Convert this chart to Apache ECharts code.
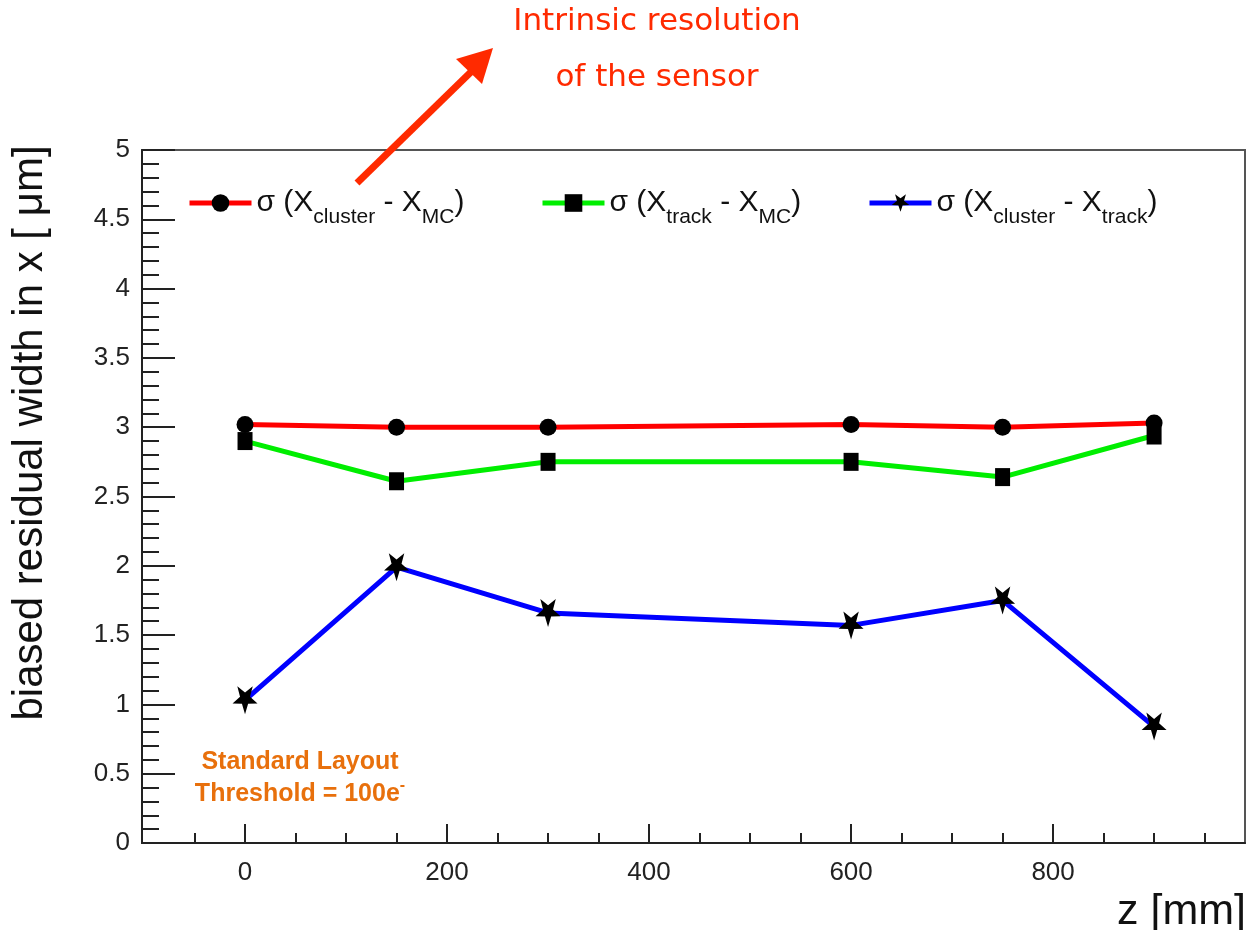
<!DOCTYPE html>
<html>
<head>
<meta charset="utf-8">
<script src="https://cdn.jsdelivr.net/npm/echarts@6/dist/echarts.min.js"></script>
<style>
html,body{margin:0;padding:0;background:#fff;}
#chart{width:1250px;height:930px;}
</style>
</head>
<body>
<div id="chart"></div>
<script>
// ---- data ----
var zValues = [0, 150, 300, 600, 750, 900];
var sigmaClusterMC = [3.02, 3.00, 3.00, 3.02, 3.00, 3.03];
var sigmaTrackMC = [2.90, 2.61, 2.75, 2.75, 2.64, 2.94];
var sigmaClusterTrack = [1.03, 1.99, 1.66, 1.57, 1.75, 0.84];
var xMajorTicks = [0, 200, 400, 600, 800];
var xMinorTicks = [-50, 50, 100, 150, 250, 300, 350, 450, 500, 550, 650, 700, 750, 850, 900, 950];
var legendLabels = {
  clusterMC: '{n|σ (X}{s|cluster}{n| - X}{s|MC}{n|)}',
  trackMC: '{n|σ (X}{s|track}{n| - X}{s|MC}{n|)}',
  clusterTrack: '{n|σ (X}{s|cluster}{n| - X}{s|track}{n|)}'
};

function pairs(xs, ys) { return xs.map(function (x, i) { return [x, ys[i]]; }); }

var FONT = '"Liberation Sans", Arial, Helvetica, sans-serif';
var starPath = 'path://M10 20 L12.35 13.24 L19.51 13.09 L13.8 8.76 L15.88 1.91 L10 6 L4.12 1.91 L6.2 8.76 L0.49 13.09 L7.65 13.24 Z';

var legendRich = {
  n: { fontSize: 30, lineHeight: 30, padding: [10, 0, 10, 0], color: '#111', fontFamily: FONT },
  s: { fontSize: 21, lineHeight: 21, padding: [29, 0, 0, 0], color: '#111', fontFamily: FONT }
};
function makeLegend(name, left) {
  return {
    data: [name], left: left, top: 173, itemWidth: 62, itemHeight: 22,
    lineStyle: { width: 5 },
    formatter: function (n) { return legendLabels[n]; },
    textStyle: { rich: legendRich }
  };
}

var chart = echarts.init(document.getElementById('chart'), null, { renderer: 'canvas' });
var axisColor = '#222';
chart.setOption({
  animation: false,
  backgroundColor: '#fff',
  grid: { left: 142, right: 5, top: 150, bottom: 87, show: true, borderColor: '#555', borderWidth: 2, backgroundColor: 'transparent' },
  legend: [makeLegend('clusterMC', 182), makeLegend('trackMC', 535), makeLegend('clusterTrack', 862)],
  xAxis: [{
    type: 'value', min: -102, max: 990, position: 'bottom',
    axisLine: { show: true, onZero: false, lineStyle: { color: axisColor, width: 2 } },
    axisTick: { show: true, inside: true, length: 19, customValues: xMajorTicks, lineStyle: { color: axisColor, width: 2 } },
    axisLabel: { show: true, customValues: xMajorTicks, fontSize: 26, color: axisColor, margin: 17, fontFamily: FONT },
    splitLine: { show: false }
  }, {
    type: 'value', min: -102, max: 990, position: 'bottom',
    axisLine: { show: false },
    axisTick: { show: true, inside: true, length: 10, customValues: xMinorTicks, lineStyle: { color: axisColor, width: 2 } },
    axisLabel: { show: false },
    splitLine: { show: false }
  }],
  yAxis: {
    type: 'value', min: 0, max: 5, interval: 0.5,
    axisLine: { show: true, onZero: false, lineStyle: { color: axisColor, width: 2 } },
    axisTick: { show: true, inside: true, length: 33, lineStyle: { color: axisColor, width: 2 } },
    minorTick: { show: true, splitNumber: 5, length: 17, lineStyle: { color: axisColor, width: 2 } },
    axisLabel: { fontSize: 26, color: axisColor, margin: 12, fontFamily: FONT },
    splitLine: { show: false }
  },
  series: [{
    name: 'clusterMC', type: 'line', data: pairs(zValues, sigmaClusterMC),
    symbol: 'circle', symbolSize: 17,
    itemStyle: { color: '#000' }, lineStyle: { color: '#ff0000', width: 5 }, z: 3
  }, {
    name: 'trackMC', type: 'line', data: pairs(zValues, sigmaTrackMC),
    symbol: 'rect', symbolSize: [15, 18],
    itemStyle: { color: '#000' }, lineStyle: { color: '#00ee00', width: 5 }, z: 2
  }, {
    name: 'clusterTrack', type: 'line', data: pairs(zValues, sigmaClusterTrack),
    symbol: starPath, symbolSize: [25, 28],
    itemStyle: { color: '#000' }, lineStyle: { color: '#0000ff', width: 5 }, z: 2
  }],
  graphic: [
    { type: 'text', x: 30, y: 433, rotation: Math.PI / 2,
      style: { text: 'biased residual width in x [ μm]', fontSize: 42, fontFamily: FONT, fill: '#111', align: 'center', verticalAlign: 'middle' } },
    { type: 'text', x: 1246, y: 912,
      style: { text: 'z [mm]', fontSize: 43, fontFamily: FONT, fill: '#111', align: 'right', verticalAlign: 'middle' } },
    { type: 'text', x: 657, y: 22,
      style: { text: 'Intrinsic resolution', fontSize: 31, fontFamily: '"DejaVu Sans", sans-serif', fill: '#ff2a00', align: 'center', verticalAlign: 'middle' } },
    { type: 'text', x: 657, y: 78,
      style: { text: 'of the sensor', fontSize: 31, fontFamily: '"DejaVu Sans", sans-serif', fill: '#ff2a00', align: 'center', verticalAlign: 'middle' } },
    { type: 'line', shape: { x1: 357, y1: 183, x2: 474, y2: 69 }, style: { stroke: '#ff2a00', lineWidth: 7 } },
    { type: 'polygon', shape: { points: [[493, 48], [456, 59], [482, 84]] }, style: { fill: '#ff2a00' } },
    { type: 'text', x: 300, y: 762,
      style: { text: 'Standard Layout', fontSize: 25, fontWeight: 'bold', fontFamily: FONT, fill: '#e8700c', align: 'center', verticalAlign: 'middle' } },
    { type: 'text', x: 300, y: 794,
      style: { text: '{b|Threshold = 100e}{p|-}', align: 'center', verticalAlign: 'middle',
        rich: {
          b: { fontSize: 25, fontWeight: 'bold', fontFamily: FONT, fill: '#e8700c', color: '#e8700c', lineHeight: 25, padding: [4, 0, 4, 0] },
          p: { fontSize: 16, fontWeight: 'bold', fontFamily: FONT, fill: '#e8700c', color: '#e8700c', lineHeight: 16, padding: [0, 0, 17, 0] }
        } } }
  ]
});
</script>
</body>
</html>
